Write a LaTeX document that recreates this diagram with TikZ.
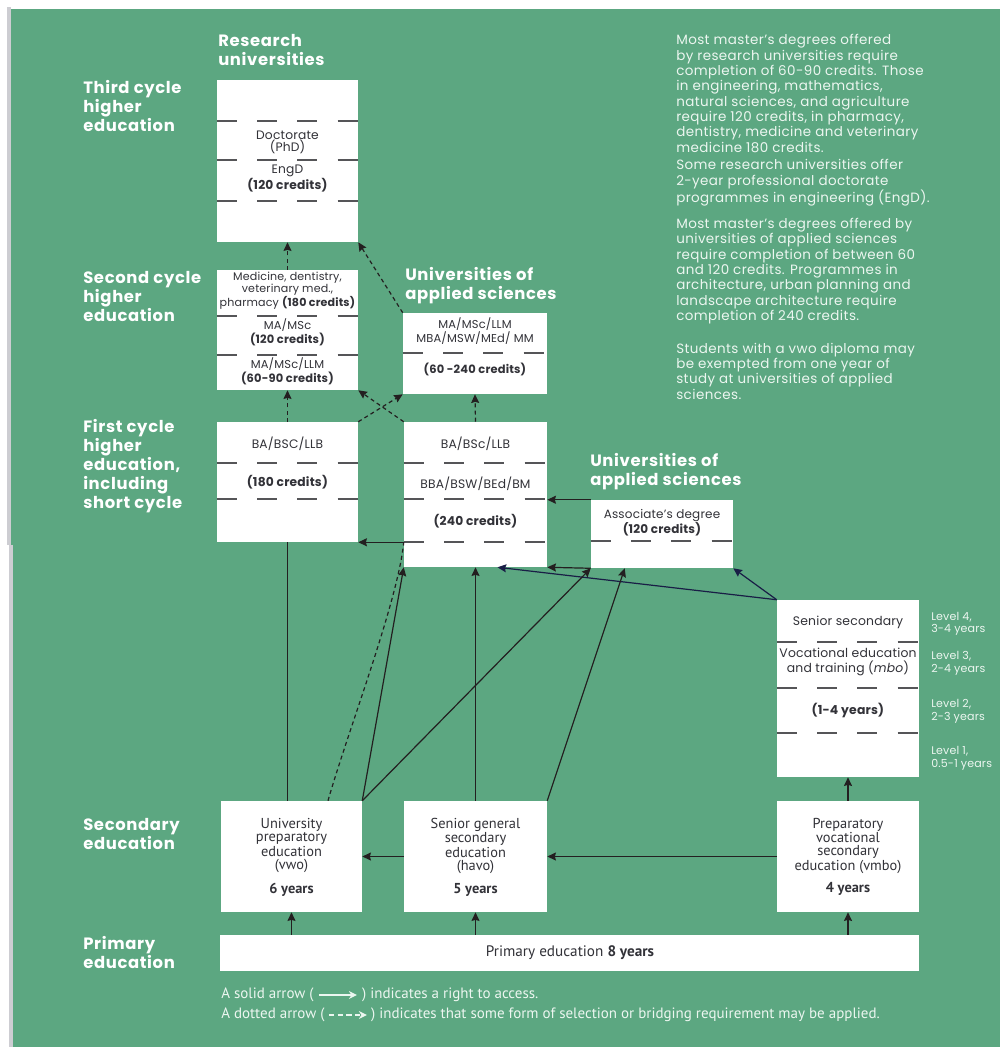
\documentclass[tikz,border=0pt]{standalone}
\usepackage{fontspec}
\setmainfont{Poppins}
\newfontfamily\ptsans{PT Sans}
\newfontfamily\widesans[LetterSpace=3.0]{Poppins}
\newfontfamily\labelsans[LetterSpace=4.0]{Poppins}
\newfontfamily\boxsans[LetterSpace=1.5]{Poppins}
\usetikzlibrary{arrows.meta,calc,fit}
\definecolor{bggreen}{RGB}{92,167,129}
\definecolor{leftgrey}{RGB}{205,205,210}
\definecolor{linedark}{RGB}{35,31,32}
\definecolor{navyline}{RGB}{25,30,70}
\definecolor{dashgrey}{RGB}{85,85,88}
\definecolor{boxtext}{RGB}{50,50,56}
\definecolor{paletext}{RGB}{236,246,240}
\begin{document}
\begin{tikzpicture}[x=0.75pt,y=-0.75pt,
  box/.style={fill=white,draw=none,inner sep=0pt},
  btxt/.style={text=boxtext,font=\boxsans\fontsize{8.6}{8.7}\selectfont,align=center,inner sep=0pt},
  stxt/.style={text=boxtext,font=\ptsans\fontsize{10.8}{9.75}\selectfont,align=center,inner sep=0pt},
  lbl/.style={text=white,font=\labelsans\bfseries\fontsize{12.3}{14.25}\selectfont,align=left,anchor=west,inner sep=0pt},
  para/.style={text=paletext,font=\widesans\fontsize{10.1}{11.5}\selectfont,align=left,anchor=west,inner sep=0pt},
  lvl/.style={text=paletext,font=\boxsans\fontsize{8.3}{9.4}\selectfont,align=left,anchor=west,inner sep=0pt},
  leg/.style={text=paletext,font=\ptsans\fontsize{11.25}{12}\selectfont,anchor=west,inner sep=0pt},
  divider/.style={draw=dashgrey,line width=1.5pt,dash pattern=on 15pt off 15.25pt},
  tip/.style={-{Stealth[length=6.5pt,width=6pt,inset=0.8pt]}},
  sarr/.style={draw=linedark,line width=0.9pt,tip},
  narr/.style={draw=navyline,line width=0.9pt,tip},
  sline/.style={draw=linedark,line width=0.9pt},
  darr/.style={draw=linedark,line width=0.9pt,dash pattern=on 3pt off 2.4pt,tip},
  dline/.style={draw=linedark,line width=0.9pt,dash pattern=on 3pt off 2.4pt}
]
\useasboundingbox (0,0) rectangle (1000,1047);
\fill[white] (0,0) rectangle (1000,1047);
\fill[leftgrey] (7,7) rectangle (11,545);
\fill[leftgrey] (9,545) rectangle (13,1047);
\fill[bggreen] (11,9) rectangle (1000,545);
\fill[bggreen] (13,545) rectangle (1000,1047);

% ---------- boxes ----------
\node[box,fit={(217,80) (358,242)}] (phd) {};
\node[box,fit={(217,270) (358,390)}] (rm) {};
\node[box,fit={(403,313) (547,394)}] (um) {};
\node[box,fit={(217,422) (358,542)}] (rb) {};
\node[box,fit={(404,422) (547,567)}] (ub) {};
\node[box,fit={(591,500) (733,568)}] (asc) {};
\node[box,fit={(777,600) (919,777)}] (mbo) {};
\node[box,fit={(221,801) (362,912)}] (vwo) {};
\node[box,fit={(404,801) (547,912)}] (havo) {};
\node[box,fit={(777,801) (919,912)}] (vmbo) {};
\node[box,fit={(220,935) (919,971)}] (prim) {};

% ---------- dividers ----------
\foreach \yy in {121,160,201} \draw[divider] (phd.west |- 0,\yy) -- (phd.east |- 0,\yy);
\foreach \yy in {316,355} \draw[divider] (rm.west |- 0,\yy) -- (rm.east |- 0,\yy);
\draw[divider] (um.west |- 0,353) -- (um.east |- 0,353);
\foreach \yy in {463,499} \draw[divider] (rb.west |- 0,\yy) -- (rb.east |- 0,\yy);
\foreach \yy in {463,499,542} \draw[divider] (ub.west |- 0,\yy) -- (ub.east |- 0,\yy);
\draw[divider] (asc.west |- 0,541) -- (asc.east |- 0,541);
\foreach \yy in {642,688,733} \draw[divider] (mbo.west |- 0,\yy) -- (mbo.east |- 0,\yy);

% ---------- box texts ----------
\node[btxt,font=\boxsans\fontsize{9.2}{8.9}\selectfont] (phdA) at (287.5,142) {Doctorate\\(PhD)};
\node[btxt,font=\boxsans\fontsize{9.2}{8.9}\selectfont] (phdB) at (287.5,178.5) {EngD\\\textbf{(120 credits)}};
\node[btxt,font=\boxsans\fontsize{8.3}{8.6}\selectfont] (rmA) at (287.5,291) {Medicine, dentistry,\\veterinary med.,\\pharmacy \textbf{(180 credits)}};
\node[btxt] (rmB) at (287.5,332) {MA/MSc\\\textbf{(120 credits)}};
\node[btxt] (rmC) at (287.5,371) {MA/MSc/LLM\\\textbf{(60-90 credits)}};
\node[btxt] (umA) at (475,331) {MA/MSc/LLM\\MBA/MSW/MEd/ MM};
\node[btxt] (umB) at (475,369) {\textbf{(60 -240 credits)}};
\node[btxt,font=\boxsans\fontsize{9.2}{9}\selectfont] (rbA) at (287.5,444) {BA/BSC/LLB};
\node[btxt,font=\boxsans\fontsize{9.2}{9}\selectfont] (rbB) at (287.5,482) {\textbf{(180 credits)}};
\node[btxt,font=\boxsans\fontsize{9.2}{9}\selectfont] (ubA) at (475.5,444) {BA/BSc/LLB};
\node[btxt,font=\boxsans\fontsize{9.2}{9}\selectfont] (ubB) at (475.5,484) {BBA/BSW/BEd/BM};
\node[btxt,font=\boxsans\fontsize{9.2}{9}\selectfont] (ubC) at (475.5,521) {\textbf{(240 credits)}};
\node[btxt,font=\boxsans\fontsize{9}{8.3}\selectfont] (ascA) at (662,522.5) {Associate’s degree\\\textbf{(120 credits)}};
\node[btxt,font=\boxsans\fontsize{9.3}{11.5}\selectfont] (mboA) at (848,622) {Senior secondary};
\node[btxt,font=\boxsans\fontsize{9.3}{11.5}\selectfont] (mboB) at (848,662) {Vocational education\\and training (\textit{mbo})};
\node[btxt,font=\boxsans\fontsize{9.3}{11.5}\selectfont] (mboC) at (848,710) {\textbf{(1-4 years)}};

\node[stxt] (vwoA) at (291.5,845.5) {University\\preparatory\\education\\(vwo)};
\node[stxt] (vwoB) at (291.5,890) {\textbf{6 years}};
\node[stxt] (havoA) at (475.5,845.5) {Senior general\\secondary\\education\\(havo)};
\node[stxt] (havoB) at (475.5,890) {\textbf{5 years}};
\node[stxt] (vmboA) at (848,845.5) {Preparatory\\vocational\\secondary\\education (vmbo)};
\node[stxt] (vmboB) at (848,889) {\textbf{4 years}};
\node[stxt,font=\ptsans\fontsize{11.4}{12}\selectfont] (primA) at (570,953) {Primary education \textbf{8 years}};

% ---------- labels ----------
\node[lbl] (lRes) at (218,49.5) {Research\\universities};
\node[lbl] (lThird) at (83,106) {Third cycle\\higher\\education};
\node[lbl] (lSecond) at (83,296) {Second cycle\\higher\\education};
\node[lbl] (lUas1) at (405,285.5) {Universities of\\applied sciences};
\node[lbl] (lFirst) at (83,466.5) {First cycle\\higher\\education,\\including\\short cycle};
\node[lbl] (lUas2) at (590,471.5) {Universities of\\applied sciences};
\node[lbl] (lSec) at (83,833.5) {Secondary\\education};
\node[lbl] (lPrim) at (83,952.5) {Primary\\education};

% ---------- right paragraphs ----------
\node[para] (p1) at (676,93.5) {Most master’s degrees offered\\by research universities require\\completion of 60-90 credits. Those\\in engineering, mathematics,\\natural sciences, and agriculture\\require 120 credits, in pharmacy,\\dentistry, medicine and veterinary\\medicine 180 credits.};
\node[para] (p2) at (676,183) {Some research universities offer\\2-year professional doctorate\\programmes in engineering (EngD).};
\node[para] (p3) at (676,271) {Most master’s degrees offered by\\universities of applied sciences\\require completion of between 60\\and 120 credits. Programmes in\\architecture, urban planning and\\landscape architecture require\\completion of 240 credits.};
\node[para] (p4) at (676,371) {Students with a vwo diploma may\\be exempted from one year of\\study at universities of applied\\sciences.};

% ---------- level labels ----------
\node[lvl] (lv4) at (931,624) {Level 4,\\3-4 years};
\node[lvl] (lv3) at (931,663.5) {Level 3,\\2-4 years};
\node[lvl] (lv2) at (931,711.5) {Level 2,\\2-3 years};
\node[lvl] (lv1) at (931,758.5) {Level 1,\\0.5-1 years};

% ---------- connectors ----------
\draw[darr] (rm.north) -- (phd.south);
\draw[darr] (um.north west) -- (phd.south east);
\draw[darr] (rb.north) -- (rm.south);
\draw[darr] (rb.north east) -- (um.south west);
\draw[darr] (ub.north west) -- (rm.south east);
\draw[darr] (ub.north) -- (um.south);
\draw[sarr] (ub.west |- rb.south) -- (rb.south east);
\draw[sarr] (asc.north west) -- (asc.north west -| ub.east);
\draw[sarr] (asc.south west) -- (ub.south east);
\draw[narr] (mbo.north west) -- ($(ub.south)+(22,0)$);
\draw[narr] (mbo.north west) -- (asc.south east);
\draw[sarr] (vmbo.north) -- (mbo.south);
\draw[sline] (vwo.north -| rb.south) -- (rb.south);
\draw[dline] ($(vwo.north)+(36.5,0)$) .. controls ($(vwo.north)+(56.5,-70)$) and ($(ub.west |- rb.south)+(-6,60)$) .. (ub.west |- rb.south);
\draw[sarr] (vwo.north east) -- (ub.south west);
\draw[sarr] (vwo.north east) -- (asc.south west);
\draw[sarr] (havo.north) -- (ub.south);
\draw[sarr] (havo.north east) -- ($(asc.south west)+(34,0)$);
\draw[sarr] (vmbo.west) -- (havo.east);
\draw[sarr] (havo.west) -- (vwo.east);
\draw[sarr] (prim.north -| vwo.south) -- (vwo.south);
\draw[sarr] (prim.north -| havo.south) -- (havo.south);
\draw[sarr] (prim.north -| vmbo.south) -- (vmbo.south);

% ---------- legend ----------
\node[leg] (leg1a) at (221,995) {A solid arrow (};
\node[leg,anchor=west] (leg1b) at ($(leg1a.east)+(48,0)$) {) indicates a right to access.};
\draw[draw=paletext,line width=0.9pt,-{Stealth[length=6pt,width=6pt]}] ($(leg1a.east)+(5,0)$) -- ($(leg1b.west)+(-5,0)$);
\node[leg] (leg2a) at (221,1015) {A dotted arrow (};
\node[leg,anchor=west] (leg2b) at ($(leg2a.east)+(46,0)$) {) indicates that some form of selection or bridging requirement may be applied.};
\draw[draw=paletext,line width=0.9pt,dash pattern=on 4pt off 2.5pt,-{Stealth[length=6pt,width=6pt]}] ($(leg2a.east)+(4,0)$) -- ($(leg2b.west)+(-4,0)$);
\end{tikzpicture}
\end{document}
